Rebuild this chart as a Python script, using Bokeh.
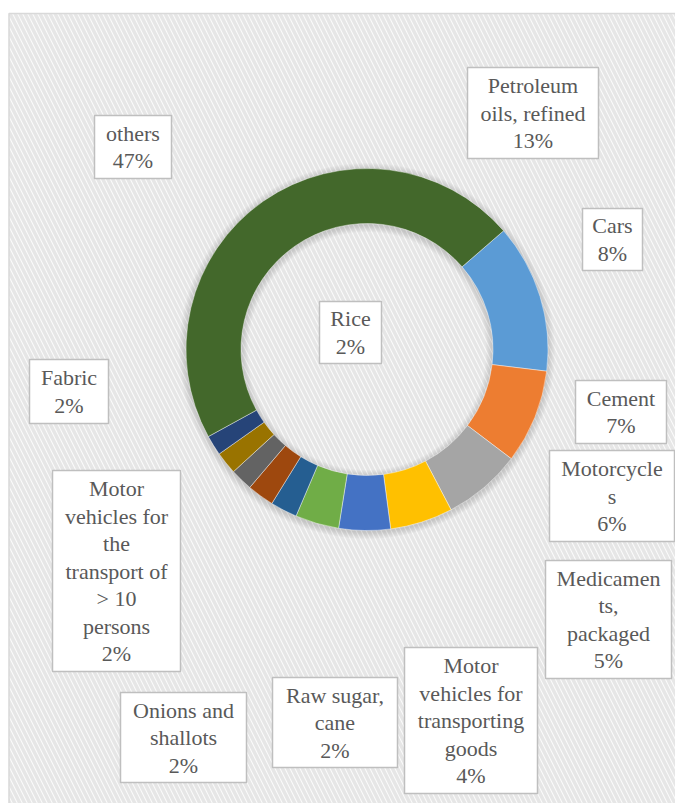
import math
from bokeh.plotting import figure
from bokeh.models import Range1d, ColumnDataSource, Label
from bokeh.embed import file_html
from bokeh.resources import INLINE

# ---- data ----
categories = ["Petroleum oils, refined", "Cars", "Cement", "Motorcycles",
              "Medicaments, packaged", "Motor vehicles for transporting goods",
              "Raw sugar, cane", "Onions and shallots",
              "Motor vehicles for the transport of > 10 persons", "Fabric",
              "Rice", "others"]
values = [13.3, 8.4, 7.0, 5.6, 4.6, 3.9, 2.4, 2.4, 2.0, 2.0, 1.8, 46.6]
wrapped = ["Petroleum\noils, refined", "Cars", "Cement", "Motorcycle\ns",
           "Medicamen\nts,\npackaged", "Motor\nvehicles for\ntransporting\ngoods",
           "Raw sugar,\ncane", "Onions and\nshallots",
           "Motor\nvehicles for\nthe\ntransport of\n> 10\npersons", "Fabric",
           "Rice", "others"]
colors = ["#5B9BD5", "#ED7D31", "#A5A5A5", "#FFC000", "#4472C4", "#70AD47",
          "#255E91", "#9E480E", "#636363", "#997300", "#264478", "#43682B"]

# ---- layout (page pixels) ----
W, H = 675, 803
def py(y):
    return H - y

# label boxes: centre x, centre y, width, height (page px)
boxes = [(532.5, 112.5, 131, 91), (612, 239, 60, 62), (620.5, 411.5, 91, 63),
         (611.5, 495.5, 125, 91), (608, 619, 126, 118), (470.5, 720, 133, 146),
         (334.5, 722, 125, 90), (183, 737, 126, 90), (116, 570.5, 128, 201),
         (68.5, 391, 79, 64), (350, 332, 62, 62), (132.5, 146.5, 77, 63)]

CX, CY = 366.5, 349
R_OUT, R_IN = 181, 126
START_DEG = 49  # clockwise from 12 o'clock

total = sum(values)
starts, ends = [], []
acc = START_DEG
for v in values:
    span = v / total * 360.0
    starts.append(math.radians(90 - acc))
    ends.append(math.radians(90 - (acc + span)))
    acc += span

labels = [f"{w}\n{v / total * 100:.0f}%" for w, v in zip(wrapped, values)]

p = figure(width=W, height=H, output_backend="svg", toolbar_location=None,
           x_range=Range1d(0, W), y_range=Range1d(0, H),
           x_axis_location=None, y_axis_location=None, min_border=0,
           background_fill_color="white", border_fill_color="white")
p.outline_line_color = None
p.xgrid.visible = False
p.ygrid.visible = False

# chart area with diagonal stripes
p.quad(left=8.5, right=700, top=py(13), bottom=-20, fill_color="#FBFBFB",
       line_color="#D9D9D9", line_width=1.5,
       hatch_pattern="left_diagonal_line", hatch_color="#E6E6E6",
       hatch_weight=3.5, hatch_scale=10)

# soft shadow round the ring
for i in range(1, 8):
    p.annulus(x=CX, y=py(CY) - 1.5, inner_radius=R_OUT - 2, outer_radius=R_OUT + i,
              fill_color="black", fill_alpha=0.018, line_color=None)
    p.annulus(x=CX, y=py(CY) - 1.5, inner_radius=R_IN - i, outer_radius=R_IN + 2,
              fill_color="black", fill_alpha=0.018, line_color=None)

src = ColumnDataSource(dict(start=starts, end=ends, color=colors, cat=categories))
p.annular_wedge(x=CX, y=py(CY), inner_radius=R_IN, outer_radius=R_OUT,
                start_angle="start", end_angle="end", direction="clock",
                fill_color="color", line_color="white", line_width=0.6,
                line_alpha=0.7, source=src)

bx = [b[0] for b in boxes]
by = [py(b[1]) for b in boxes]
bw = [b[2] for b in boxes]
bh = [b[3] for b in boxes]
p.rect(x=bx, y=by, width=bw, height=bh, fill_color="white",
       line_color="#BFBFBF", line_width=1.5)
for x, y, t in zip(bx, by, labels):
    p.add_layout(Label(x=x, y=y, text=t, text_font="Liberation Serif",
                       text_font_size="22px", text_color="#595959",
                       text_align="center", text_baseline="middle",
                       text_line_height=1.1))

open("out.html", "w").write(file_html(p, INLINE))
